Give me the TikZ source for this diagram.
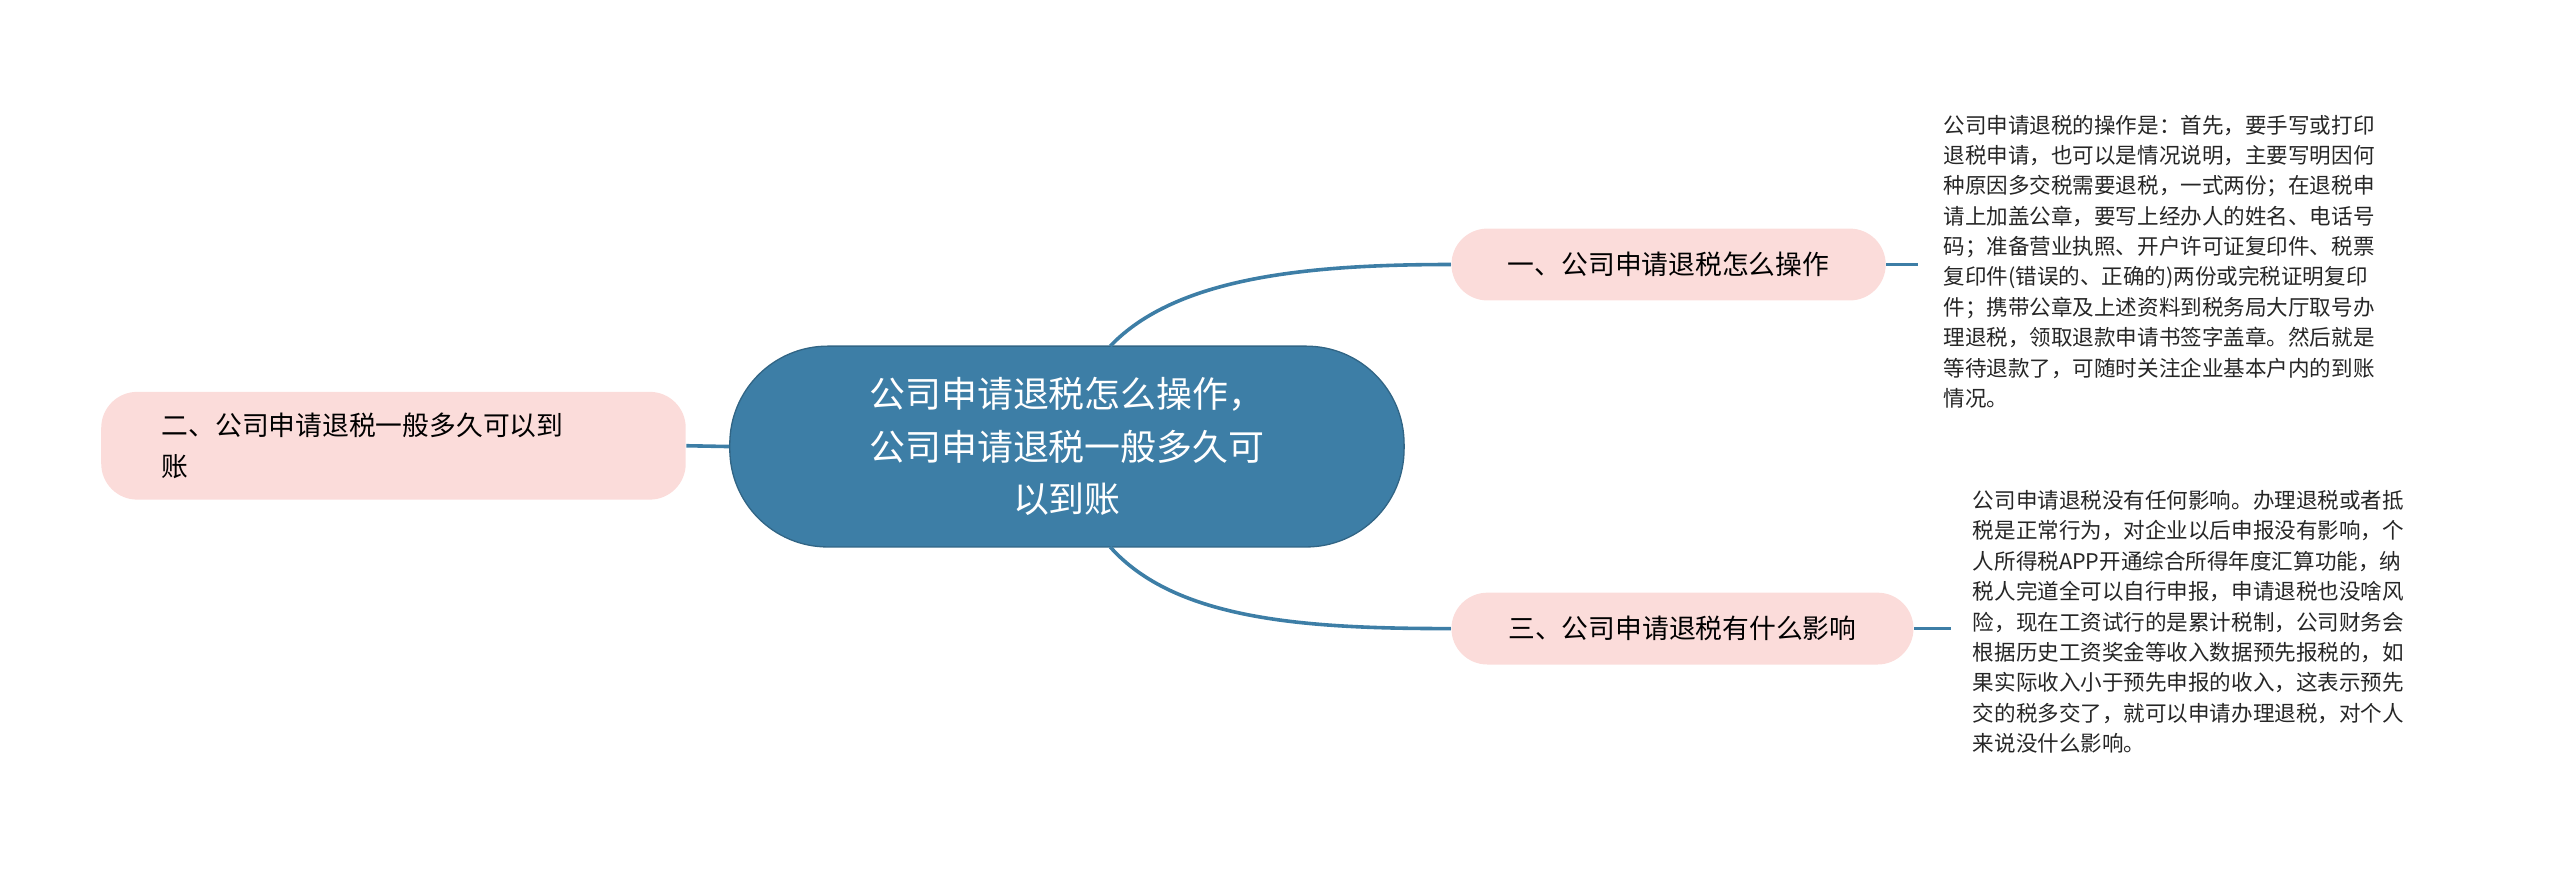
\documentclass[tikz,border=0pt]{standalone}
\usepackage{fontspec}
\newfontfamily\cjk{Noto Sans CJK SC}
\begin{document}
\begin{tikzpicture}[x=0.5pt,y=-0.5pt,
  edge/.style={draw=blue1,line width=1.1pt},
  pinkbox/.style={fill=pink1,rounded corners=11pt,inner sep=0pt},
  detail/.style={font=\cjk\fontsize{6.6pt}{9.3pt}\selectfont,align=left,anchor=north west,inner sep=0pt,text=black!85}]
\definecolor{blue1}{HTML}{3D7EA6}
\definecolor{pink1}{HTML}{FBDCDA}
\useasboundingbox (0,0) rectangle (1568,538);
\node[fill=blue1,draw=blue1!80!black,rounded corners=30pt,minimum width=206.5pt,minimum height=61.5pt,text=white,align=center,font=\cjk\fontsize{11pt}{16pt}\selectfont] (c) at (653.5,273.5) {公司申请退税怎么操作，\\公司申请退税一般多久可\\以到账};
\node[pinkbox,minimum width=179pt,minimum height=33pt] (l) at (241,273) {};
\node[font=\cjk\fontsize{8.2pt}{12.5pt}\selectfont,align=left,anchor=west] at (92,273) {二、公司申请退税一般多久可以到\\账};
\node[pinkbox,minimum width=133pt,minimum height=22pt,font=\cjk\fontsize{8.2pt}{10pt}\selectfont] (a) at (1022,162) {一、公司申请退税怎么操作};
\node[pinkbox,minimum width=141.5pt,minimum height=22pt,font=\cjk\fontsize{8.2pt}{10pt}\selectfont] (b) at (1030.5,385) {三、公司申请退税有什么影响};
\coordinate (c1) at (680,212);
\coordinate (c2) at (680,335);
\coordinate (d1) at (1175,162);
\coordinate (d3) at (1195,385);
\draw[edge] (l.east) -- (c.west);
\draw[edge] (c1) .. controls (720,170) and (800,162) .. (a.west);
\draw[edge] (c2) .. controls (720,380) and (800,385) .. (b.west);
\draw[edge] (a.east) -- (d1);
\draw[edge] (b.east) -- (d3);
\node[detail] (t1) at (1190,70) {公司申请退税的操作是：首先，要手写或打印\\退税申请，也可以是情况说明，主要写明因何\\种原因多交税需要退税，一式两份；在退税申\\请上加盖公章，要写上经办人的姓名、电话号\\码；准备营业执照、开户许可证复印件、税票\\复印件(错误的、正确的)两份或完税证明复印\\件；携带公章及上述资料到税务局大厅取号办\\理退税，领取退款申请书签字盖章。然后就是\\等待退款了，可随时关注企业基本户内的到账\\情况。};
\node[detail] (t3) at (1208,300) {公司申请退税没有任何影响。办理退税或者抵\\税是正常行为，对企业以后申报没有影响，个\\人所得税APP开通综合所得年度汇算功能，纳\\税人完道全可以自行申报，申请退税也没啥风\\险，现在工资试行的是累计税制，公司财务会\\根据历史工资奖金等收入数据预先报税的，如\\果实际收入小于预先申报的收入，这表示预先\\交的税多交了，就可以申请办理退税，对个人\\来说没什么影响。};
\end{tikzpicture}
\end{document}
